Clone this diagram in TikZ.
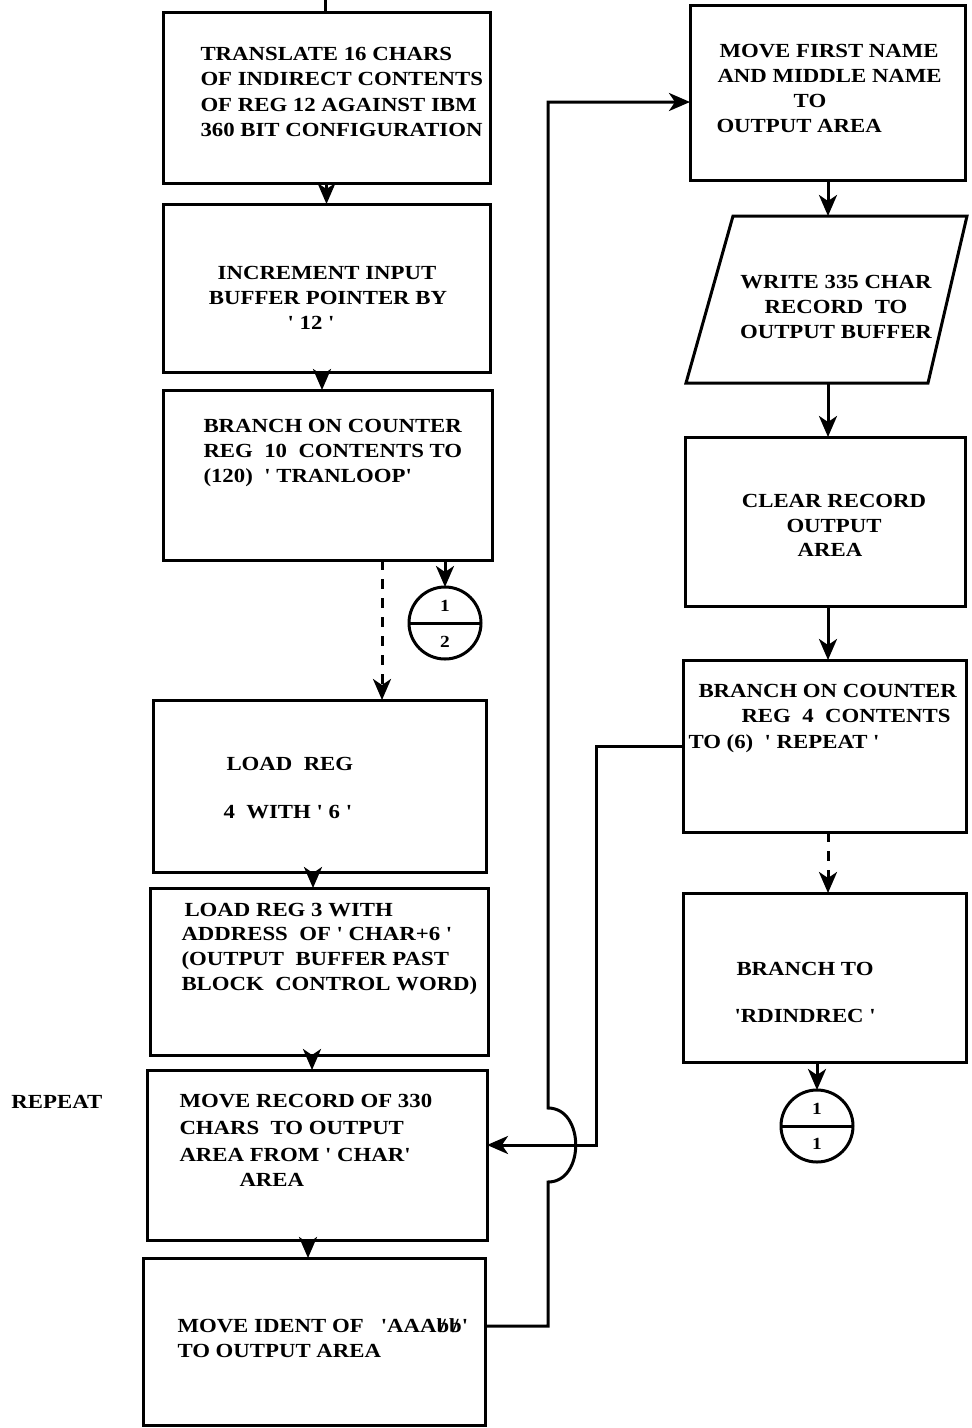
\documentclass[tikz,border=0pt]{standalone}
\usepackage{fontspec}
\setmainfont{Liberation Serif}[FakeStretch=1.14, Ligatures=TeXOff]
\usetikzlibrary{arrows.meta}
\newcommand{\bslsh}{\ooalign{b\cr\hidewidth/\hidewidth\cr}}
\begin{document}
\begin{tikzpicture}[x=1pt,y=-1pt, line width=3pt,
  box/.style={draw, rectangle, inner sep=0pt, outer sep=0pt},
  conn/.style={draw, circle, inner sep=0pt, outer sep=0pt, minimum size=72pt},
  arr/.style={-{Stealth[length=21pt,width=18pt,inset=6pt]}},
  dsh/.style={dash pattern=on 10pt off 9pt},
  txt/.style={anchor=base west, inner sep=0pt, font=\fontsize{20}{24}\selectfont\bfseries},
  ctx/.style={txt, anchor=base},
  small/.style={inner sep=0pt, font=\fontsize{17}{20}\selectfont\bfseries}]
\useasboundingbox (0,0) rectangle (972,1428);

% boxes
\node[box, minimum width=327pt, minimum height=171pt] (A) at (326.5,97.5) {};
\node[box, minimum width=327pt, minimum height=168pt] (B) at (326.5,288) {};
\node[box, minimum width=329pt, minimum height=170pt] (C) at (327.5,475) {};
\node[box, minimum width=333pt, minimum height=172pt] (D) at (319.5,786) {};
\node[box, minimum width=338pt, minimum height=167pt] (E) at (319,971.5) {};
\node[box, minimum width=340pt, minimum height=170pt] (F) at (317,1155) {};
\node[box, minimum width=342pt, minimum height=167pt] (G) at (314,1341.5) {};
\node[box, minimum width=275pt, minimum height=175pt] (H) at (827.5,92.5) {};
\node[box, minimum width=280pt, minimum height=169pt] (J) at (825,521.5) {};
\node[box, minimum width=283pt, minimum height=172pt] (K) at (824.5,746) {};
\node[box, minimum width=283pt, minimum height=169pt] (L) at (824.5,977.5) {};
% parallelogram
\draw (733,216) -- (967,216) -- (928,383) -- (686,383) -- cycle;
\coordinate (Itop) at (828,216);
\coordinate (Ibot) at (828,383);
% connectors (off-page)
\node[conn] (c1) at (445,623) {};
\draw (c1.west) -- (c1.east);
\node[small] (c1t) at (445,606) {1};
\node[small] (c1b) at (445,642) {2};
\node[conn] (c2) at (817,1126) {};
\draw (c2.west) -- (c2.east);
\node[small] (c2t) at (817,1109) {1};
\node[small] (c2b) at (817,1144) {1};

% texts
\node[txt] (a1) at (199,60) {TRANSLATE 16 CHARS};
\node[txt] (a2) at (199,85.5) {OF INDIRECT CONTENTS};
\node[txt] (a3) at (199,111) {OF REG 12 AGAINST IBM};
\node[txt] (a4) at (199,136.5) {360 BIT CONFIGURATION};
\node[ctx] (b1) at (327,279) {INCREMENT INPUT};
\node[ctx] (b2) at (328,304) {BUFFER POINTER BY};
\node[ctx] (b3) at (311,329) {' 12 '};
\node[txt] (cc1) at (202,432) {BRANCH ON COUNTER};
\node[txt] (cc2) at (202,457) {REG\ \ 10\ \ CONTENTS TO};
\node[txt] (cc3) at (202,482) {(120)\ \ ' TRANLOOP'};
\node[txt] (d1) at (225,770) {LOAD\ \ REG};
\node[txt] (d2) at (222,818) {4\ \ WITH ' 6 '};
\node[txt] (e1) at (183,916) {LOAD REG 3 WITH};
\node[txt] (e2) at (180,940) {ADDRESS\ \ OF ' CHAR+6 '};
\node[txt] (e3) at (180,965) {(OUTPUT\ \ BUFFER PAST};
\node[txt] (e4) at (180,990) {BLOCK\ \ CONTROL WORD)};
\node[txt] (f1) at (178,1107) {MOVE RECORD OF 330};
\node[txt] (f2) at (178,1134) {CHARS\ \ TO OUTPUT};
\node[txt] (f3) at (178,1161) {AREA FROM ' CHAR'};
\node[txt] (f4) at (238,1186) {AREA};
\node[txt] (g1t) at (176,1332) {MOVE IDENT OF\ \ \ 'AAA\bslsh\bslsh'};
\node[txt] (g2t) at (176,1357) {TO OUTPUT AREA};
\node[txt] (h1t) at (718,57) {MOVE FIRST NAME};
\node[txt] (h2t) at (716,82) {AND MIDDLE NAME};
\node[ctx] (h3t) at (810,107) {TO};
\node[txt] (h4t) at (715,132) {OUTPUT AREA};
\node[ctx] (i1) at (836,288) {WRITE 335 CHAR};
\node[ctx] (i2) at (836,313) {RECORD\ \ TO};
\node[ctx] (i3) at (836,338) {OUTPUT BUFFER};
\node[ctx] (j1) at (834,507) {CLEAR RECORD};
\node[ctx] (j2) at (834,532) {OUTPUT};
\node[ctx] (j3) at (830,556) {AREA};
\node[txt] (k1t) at (697,697) {BRANCH ON COUNTER};
\node[txt] (k2t) at (740,722) {REG\ \ 4\ \ CONTENTS};
\node[txt] (k3t) at (687,748) {TO (6)\ \ ' REPEAT '};
\node[txt] (l1) at (735,975) {BRANCH TO};
\node[txt] (l2) at (733,1022) {'RDINDREC '};
\node[txt] (rep) at (10,1108) {REPEAT};

% flow lines
\coordinate (top) at (325,0);
\draw (top) -- (top |- A.north);
\draw[arr] (A.south) -- (B.north);
\coordinate (bc) at (322,372);
\draw[arr] (bc) -- (bc |- C.north);
\draw[arr] (C.south -| c1.north) -- (c1.north);
\coordinate (cd) at (382,560);
\draw[arr, dsh] (cd) -- (cd |- D.north);
\coordinate (de) at (313,872);
\draw[arr] (de) -- (de |- E.north);
\coordinate (ef) at (312,1055);
\draw[arr] (ef) -- (ef |- F.north);
\coordinate (fg) at (308,1240);
\draw[arr] (fg) -- (fg |- G.north);
\coordinate (gA) at (548,1326);
\coordinate (gB) at (548,1182);
\coordinate (gC) at (548,1108);
\coordinate (hA) at (548,102);
\draw[arr] (G.east |- gA) -- (gA) -- (gB) .. controls (585,1182) and (585,1108) .. (gC) -- (hA) -- (H.west |- hA);
\coordinate (kA) at (596,746);
\coordinate (kB) at (596,1145);
\draw[arr] (K.west |- kA) -- (kA) -- (kB) -- (F.east |- kB);
\draw[arr] (H.south -| Itop) -- (Itop);
\draw[arr] (Ibot) -- (Ibot |- J.north);
\coordinate (jk) at (828,606);
\draw[arr] (jk) -- (jk |- K.north);
\coordinate (kl) at (828,832);
\draw[arr, dsh] (kl) -- (kl |- L.north);
\draw[arr] (L.south -| c2.north) -- (c2.north);
\end{tikzpicture}
\end{document}
